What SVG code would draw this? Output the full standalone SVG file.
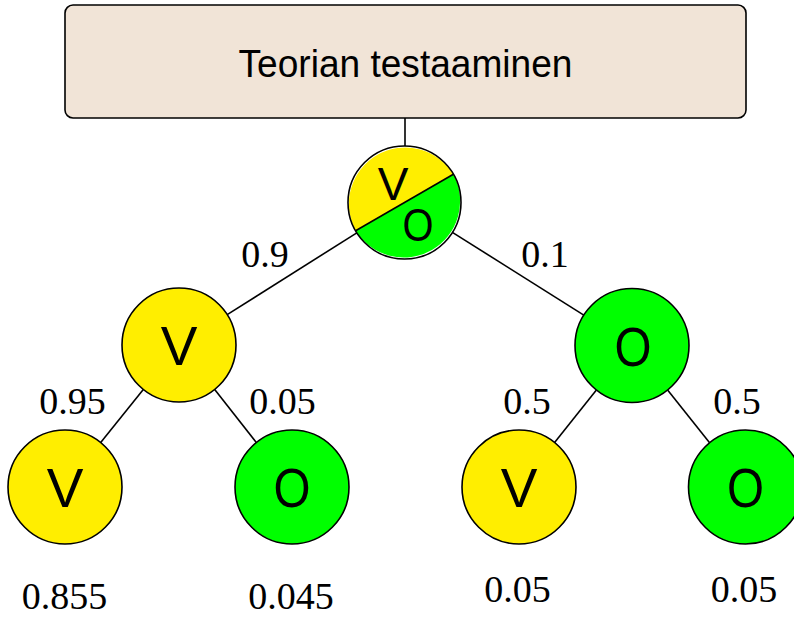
<svg xmlns="http://www.w3.org/2000/svg" width="794" height="619" viewBox="0 0 794 619">
<style>
.node{stroke:#000;stroke-width:1.6}
.y{fill:#ffee00}
.g{fill:#00ff00}
.lbl{font-family:"Liberation Sans","DejaVu Sans",sans-serif;font-size:55px;text-anchor:middle;fill:#000}
.small{font-size:46px}
.num{font-family:"Liberation Serif","DejaVu Serif",serif;font-size:38px;text-anchor:middle;fill:#000}
.edge{stroke:#000;stroke-width:1.6;fill:none}
</style>
<rect width="794" height="619" fill="#fff"/>
<g id="connectors">
<line class="edge" x1="405" y1="118" x2="405" y2="146"/>
<line class="edge" x1="357.2" y1="232.6" x2="227.2" y2="314.6"/>
<line class="edge" x1="452.8" y1="232.6" x2="583.8" y2="315.1"/>
<line class="edge" x1="143.3" y1="389.5" x2="100.7" y2="442.5"/>
<line class="edge" x1="214.7" y1="389.5" x2="256.3" y2="442.5"/>
<line class="edge" x1="596.4" y1="390" x2="554.6" y2="442.5"/>
<line class="edge" x1="667.6" y1="390" x2="709.4" y2="442.5"/>
<text class="num" x="265" y="267">0.9</text>
<text class="num" x="545" y="267">0.1</text>
<text class="num" x="72.5" y="414">0.95</text>
<text class="num" x="282.5" y="414">0.05</text>
<text class="num" x="527" y="414">0.5</text>
<text class="num" x="737" y="414">0.5</text>
</g>
<g id="title">
<rect x="65" y="5" width="681" height="113" rx="8" ry="8" fill="#f1e4d7" stroke="#000" stroke-width="1.6"/>
<text x="405.5" y="77" font-family="Liberation Sans,DejaVu Sans,sans-serif" font-size="38" text-anchor="middle" textLength="334" lengthAdjust="spacingAndGlyphs">Teorian testaaminen</text>
</g>
<g id="root">
<path class="y" d="M355.6 230.75 A56.5 56.5 0 0 1 453.4 174.25 Z"/>
<path class="g" d="M453.4 174.25 A56.5 56.5 0 0 1 355.6 230.75 Z"/>
<circle cx="404.5" cy="202.5" r="56.5" fill="none" stroke="#000" stroke-width="1.6"/>
<line x1="355.6" y1="230.75" x2="453.4" y2="174.25" stroke="#000" stroke-width="1.6"/>
<text class="lbl small" x="393" y="200">V</text>
<text class="lbl small" x="418" y="241" textLength="31" lengthAdjust="spacingAndGlyphs">O</text>
</g>
<g id="n-v1">
<circle class="node y" cx="179" cy="345" r="57"/>
<text class="lbl" x="179" y="365">V</text>
</g>
<g id="n-o1">
<circle class="node g" cx="632" cy="345.5" r="57"/>
<text class="lbl" x="633" y="365.5" textLength="37" lengthAdjust="spacingAndGlyphs">O</text>
</g>
<g id="n-vv">
<circle class="node y" cx="65" cy="487" r="57"/>
<text class="lbl" x="65" y="507">V</text>
<text class="num" x="64.5" y="609">0.855</text>
</g>
<g id="n-vo">
<circle class="node g" cx="292" cy="487" r="57"/>
<text class="lbl" x="292" y="507" textLength="37" lengthAdjust="spacingAndGlyphs">O</text>
<text class="num" x="291" y="609">0.045</text>
</g>
<g id="n-ov">
<circle class="node y" cx="519" cy="487" r="57"/>
<text class="lbl" x="519" y="507">V</text>
<text class="num" x="517.5" y="602">0.05</text>
</g>
<g id="n-oo">
<circle class="node g" cx="745.5" cy="487" r="57"/>
<text class="lbl" x="745.5" y="507" textLength="37" lengthAdjust="spacingAndGlyphs">O</text>
<text class="num" x="744" y="602">0.05</text>
</g>
</svg>
